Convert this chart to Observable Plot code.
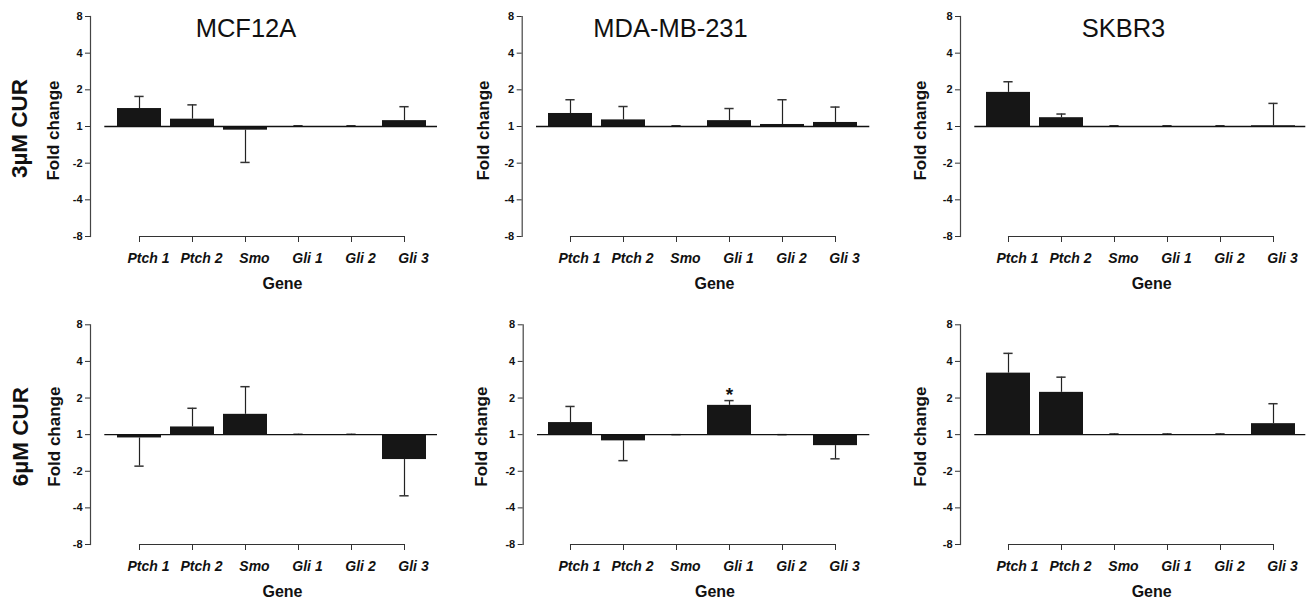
<!DOCTYPE html>
<html><head><meta charset="utf-8">
<script src="https://cdn.jsdelivr.net/npm/d3@7"></script>
<script src="https://cdn.jsdelivr.net/npm/@observablehq/plot@0.6"></script>
<style>
body{margin:0;background:#fff;}
#chart{position:relative;width:1306px;height:599px;overflow:hidden;background:#fff;}
#chart svg{position:absolute;}
#chart g[aria-label="x-axis tick label"]{font-style:italic;font-weight:bold;font-size:14px;}
#chart g[aria-label="y-axis tick label"]{font-weight:bold;font-size:11px;}
</style></head><body><div id="chart"></div>
<script>
// ---- data ----
const genes = ["Ptch 1", "Ptch 2", "Smo", "Gli 1", "Gli 2", "Gli 3"];
const cellLines = ["MCF12A", "MDA-MB-231", "SKBR3"];
const doses = ["3µM CUR", "6µM CUR"];
const yTickValues = [-3, -2, -1, 0, 1, 2, 3];          // log2 position
const yTickLabels = ["-8", "-4", "-2", "1", "2", "4", "8"]; // fold change label
const xLabel = "Gene";
const yLabel = "Fold change";

// bar values (log2 fold change) and error-bar ends, per dose / cell line
const mcf12a_3 = [0.49, 0.20, -0.10, 0, 0, 0.16];
const mcf12a_3_err = [0.82, 0.59, -0.98, 0.02, 0.02, 0.54];
const mda_3 = [0.355, 0.18, 0, 0.16, 0.055, 0.11];
const mda_3_err = [0.73, 0.545, 0.02, 0.49, 0.73, 0.53];
const skbr3_3 = [0.93, 0.24, 0, 0, 0, 0.02];
const skbr3_3_err = [1.22, 0.34, 0.02, 0.02, 0.02, 0.63];
const mcf12a_6 = [-0.09, 0.21, 0.555, 0, 0, -0.68];
const mcf12a_6_err = [-0.86, 0.72, 1.31, 0.01, 0.01, -1.67];
const mda_6 = [0.33, -0.17, 0, 0.80, 0, -0.30];
const mda_6_err = [0.77, -0.71, 0, 0.93, 0, -0.66];
const skbr3_6 = [1.68, 1.155, 0, 0, 0, 0.30];
const skbr3_6_err = [2.22, 1.57, 0.02, 0.02, 0.02, 0.845];
// significance markers: [dose index, cell line index, gene]
const significant = [[1, 1, "Gli 1"]];

const values = [[mcf12a_3, mda_3, skbr3_3], [mcf12a_6, mda_6, skbr3_6]];
const errors = [[mcf12a_3_err, mda_3_err, skbr3_3_err], [mcf12a_6_err, mda_6_err, skbr3_6_err]];

// ---- layout ----
const layouts = [
  {left:0,   top:0,   width:440, height:300, mL:90,   mR:3,   mT:16,   mB:64, inL:19.3, inR:4.3, titleDx:-18,   foldDx:-36.5, foldDy:4, rowDx:-70.5, rowDy:2},
  {left:440, top:0,   width:440, height:300, mL:81.7, mR:10.7,mT:16,   mB:64, inL:19,   inR:5,   titleDx:-25.5, foldDx:-38.7, foldDy:4},
  {left:870, top:0,   width:436, height:300, mL:90,   mR:0.7, mT:16,   mB:64, inL:18.7, inR:3,   titleDx:-9.7,  foldDx:-40,   foldDy:4},
  {left:0,   top:300, width:440, height:299, mL:90,   mR:3,   mT:24.3, mB:55, inL:19.3, inR:4.3, foldDx:-36,   foldDy:2, rowDx:-69.5, rowDy:2},
  {left:440, top:300, width:440, height:299, mL:82.7, mR:10.7,mT:24.3, mB:55, inL:18,   inR:5,   foldDx:-42,   foldDy:2},
  {left:870, top:300, width:436, height:299, mL:90,   mR:0.7, mT:24.3, mB:55, inL:18.7, inR:3,   foldDx:-40,   foldDy:2}
];
const font = "'Liberation Sans', Arial, Helvetica, sans-serif";
const padInner = 0.17, padOuter = 0.085, capWidth = 10;

const chart = document.getElementById("chart");
layouts.forEach((L, i) => {
  const row = Math.floor(i / 3), col = i % 3;
  const vals = values[row][col], errs = errors[row][col];
  const data = genes.map((g, j) => ({gene: g, value: vals[j], err: errs[j]}));
  const stars = significant.filter(s => s[0] === row && s[1] === col)
    .map(s => data.find(d => d.gene === s[2]));
  const fw = L.width - L.mL - L.mR;
  const step = (fw - L.inL - L.inR) / genes.length;
  const bw = step * (1 - padInner);
  const capInset = (bw - capWidth) / 2;

  const marks = [
    Plot.barY(data, {x: "gene", y: "value", fill: "#161616"}),
    Plot.ruleX(data, {x: "gene", y1: "value", y2: "err", stroke: "#222", strokeWidth: 1.2}),
    Plot.tickY(data, {x: "gene", y: "err", stroke: "#333", strokeWidth: 1.5, inset: capInset}),
    Plot.ruleY([0], {insetLeft: 14.3, stroke: "#111", strokeWidth: 1.3}),
    Plot.frame({anchor: "left", stroke: "#444", strokeWidth: 1.2}),
    Plot.line([genes[0], genes[genes.length - 1]], {x: d => d, y: () => yTickValues[0], stroke: "#333", strokeWidth: 1.2}),
    Plot.axisY({ticks: yTickValues, tickFormat: v => yTickLabels[yTickValues.indexOf(v)], tickSize: 5, tickPadding: 3, label: null, stroke: "#333", fill: "#111"}),
    Plot.axisX({tickSize: 6, tickFormat: () => "", label: null, stroke: "#333"}),
    Plot.axisX({tickSize: 0, tickPadding: 17, dx: 9, label: null, fill: "#111"}),
    Plot.text([yLabel], {frameAnchor: "left", textAnchor: "middle", rotate: -90, dx: L.foldDx, dy: L.foldDy, fontSize: 17, fontWeight: "bold", fill: "#111"}),
    Plot.text([xLabel], {frameAnchor: "bottom", lineAnchor: "top", dx: 18.5, dy: 41, fontSize: 16, fontWeight: "bold", fill: "#111"}),
    Plot.text(stars, {x: "gene", y: "err", text: () => "*", lineAnchor: "top", dy: -13, fontSize: 19, fontWeight: "bold", fill: "#111"})
  ];
  if (row === 0) {
    marks.push(Plot.text([cellLines[col]], {frameAnchor: "top", lineAnchor: "top", dx: L.titleDx, dy: 2, fontSize: 25.5, fill: "#111"}));
  }
  if (col === 0) {
    marks.push(Plot.text([doses[row]], {frameAnchor: "left", textAnchor: "middle", rotate: -90, dx: L.rowDx, dy: L.rowDy, fontSize: 22.5, fontWeight: "bold", fill: "#111"}));
  }
  const svg = Plot.plot({
    width: L.width, height: L.height,
    marginLeft: L.mL, marginRight: L.mR, marginTop: L.mT, marginBottom: L.mB,
    style: {fontFamily: font, background: "transparent", overflow: "visible", color: "#111"},
    x: {type: "band", domain: genes, paddingInner: padInner, paddingOuter: padOuter, insetLeft: L.inL, insetRight: L.inR},
    y: {domain: [yTickValues[0], yTickValues[yTickValues.length - 1]]},
    marks
  });
  svg.style.left = L.left + "px";
  svg.style.top = L.top + "px";
  chart.appendChild(svg);
});
</script></body></html>
